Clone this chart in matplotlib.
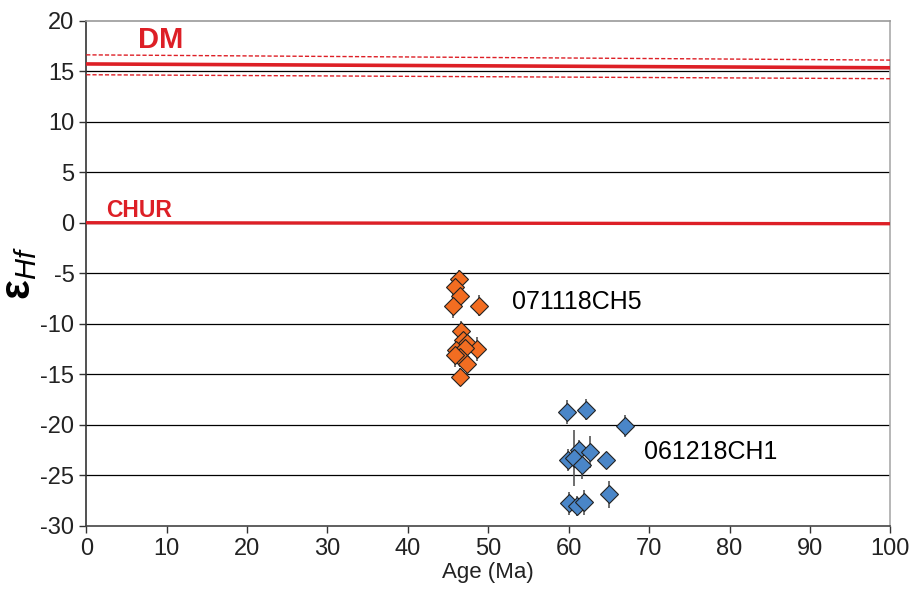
import numpy as np
import matplotlib
matplotlib.use("Agg")
import matplotlib.pyplot as plt

plt.rcParams["font.family"] = ["Liberation Sans", "DejaVu Sans"]
plt.rcParams["axes.unicode_minus"] = False
plt.rcParams["mathtext.fontset"] = "custom"
plt.rcParams["mathtext.rm"] = "Liberation Sans"
plt.rcParams["mathtext.it"] = "Liberation Sans:italic"
plt.rcParams["mathtext.bf"] = "Liberation Sans:bold"

# ── Datos ───────────────────────────────────────────────────
# Muestra 071118CH5 (naranja)
age_ch5 = [46.4, 45.9, 46.5, 45.6, 48.8, 46.6, 46.9, 47.3, 48.6, 46.0, 47.1, 46.5, 45.9, 47.3, 46.5]
ehf_ch5 = [-5.6, -6.4, -7.3, -8.2, -8.2, -10.7, -11.6, -11.9, -12.5, -12.6, -12.4, -13.3, -13.1, -14.0, -15.3]
err_ch5 = [0.9, 0.8, 0.9, 1.2, 1.0, 1.0, 1.0, 1.1, 1.2, 1.1, 1.2, 1.0, 1.2, 1.2, 0.9]

# Muestra 061218CH1 (azul)
age_ch1 = [59.8, 62.2, 67.0, 61.3, 62.7, 59.9, 60.6, 61.6, 64.6, 65.0, 60.0, 61.0, 61.9]
ehf_ch1 = [-18.75, -18.5, -20.1, -22.5, -22.7, -23.5, -23.3, -24.0, -23.5, -26.9, -27.8, -28.05, -27.7]
err_ch1 = [1.2, 1.0, 1.1, 1.0, 1.6, 1.1, 2.8, 1.4, 0.8, 1.3, 1.1, 1.0, 1.2]

# Líneas de referencia (DM y CHUR)
dm_x = [0, 100]
dm_y = [15.72, 15.34]
dm_hi = [16.62, 16.1]
dm_lo = [14.65, 14.26]
chur_y = [0.0, -0.1]

fig, ax = plt.subplots(figsize=(9.17, 5.92), dpi=100)
fig.subplots_adjust(left=0.094, right=0.971, top=0.965, bottom=0.112)

# Rejilla horizontal
for yv in range(-25, 20, 5):
    ax.axhline(yv, color="black", lw=0.9, zorder=1)

# DM
ax.plot(dm_x, dm_y, color="#dd1f26", lw=2.6, zorder=3)
ax.plot(dm_x, dm_hi, color="#dd1f26", lw=1.0, ls=(0, (3, 1.5)), zorder=3)
ax.plot(dm_x, dm_lo, color="#dd1f26", lw=1.0, ls=(0, (3, 1.5)), zorder=3)
ax.text(9.3, 18.1, "DM", color="#dd1f26", fontsize=21, fontweight="bold",
        ha="center", va="center")

# CHUR
ax.plot(dm_x, chur_y, color="#dd1f26", lw=2.4, zorder=3)
ax.text(6.6, 1.2, "CHUR", color="#dd1f26", fontsize=16.5, fontweight="bold",
        ha="center", va="center")

# Puntos con barras de error
ax.errorbar(age_ch5, ehf_ch5, yerr=err_ch5, fmt="D", ms=9.5,
            mfc="#f26d21", mec="#222222", mew=0.8, ecolor="#555555",
            elinewidth=1.2, capsize=0, zorder=4)
ax.errorbar(age_ch1, ehf_ch1, yerr=err_ch1, fmt="D", ms=9.5,
            mfc="#4a86c8", mec="#222222", mew=0.8, ecolor="#555555",
            elinewidth=1.2, capsize=0, zorder=4)

ax.text(53.0, -7.9, "071118CH5", fontsize=18, va="center", ha="left")
ax.text(69.3, -22.7, "061218CH1", fontsize=18, va="center", ha="left")

# Ejes
ax.set_xlim(0, 100)
ax.set_ylim(-30, 20)
ax.set_xticks(range(0, 101, 10))
ax.set_yticks(range(-30, 21, 5))
ax.tick_params(axis="both", labelsize=17, direction="out", length=5,
               width=1, color="#333333", labelcolor="#222222")
ax.spines["left"].set_color("#333333")
ax.spines["bottom"].set_color("#444444")
ax.spines["top"].set_color("#999999")
ax.spines["right"].set_color("#aaaaaa")
for s in ax.spines.values():
    s.set_linewidth(1.2)

ax.set_xlabel("Age (Ma)", fontsize=16, color="#222222", labelpad=2)
ax.text(-0.083, 0.5, r"$\mathbf{\epsilon}_{Hf}$", transform=ax.transAxes,
        rotation=90, fontsize=30, ha="center", va="center")

plt.savefig("out.png", dpi=100)
